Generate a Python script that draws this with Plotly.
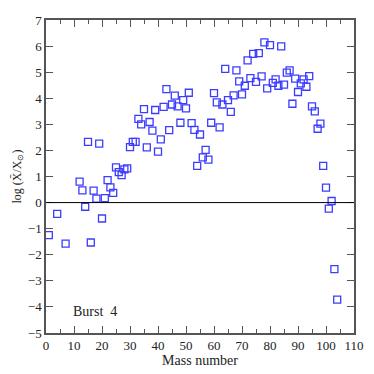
import plotly.graph_objects as go

# mass numbers and log overproduction factors
mass_number = [1, 4, 7, 12, 13, 14, 15, 16, 17, 18, 19, 20, 21, 22, 23, 24, 25, 26, 27, 28,
               29, 30, 31, 32, 33, 34, 35, 36, 37, 38, 39, 40, 41, 42, 43, 44, 45, 46, 47, 48,
               49, 50, 51, 52, 53, 54, 55, 56, 57, 58, 59, 60, 61, 62, 63, 64, 65, 66, 67, 68,
               69, 70, 71, 72, 73, 74, 75, 76, 77, 78, 79, 80, 81, 82, 83, 84, 85, 86, 87, 88,
               89, 90, 91, 92, 93, 94, 95, 96, 97, 98, 99, 100, 101, 102, 103, 104]
log_ratio = [-1.25, -0.43, -1.57, 0.80, 0.47, -0.16, 2.33, -1.53, 0.46, 0.15, 2.26, -0.61,
             0.17, 0.86, 0.58, 0.37, 1.35, 1.17, 1.05, 1.27, 1.31, 2.13, 2.33, 2.33, 3.21,
             3.00, 3.58, 2.12, 3.09, 2.76, 3.55, 1.95, 2.42, 3.67, 4.35, 2.78, 3.76, 4.10,
             3.69, 3.06, 3.93, 3.61, 4.21, 3.05, 2.79, 1.41, 2.61, 1.73, 2.02, 1.65, 3.06,
             4.20, 3.84, 2.88, 3.76, 5.13, 3.93, 3.48, 4.11, 5.07, 4.65, 4.15, 4.48, 5.45,
             4.77, 5.70, 4.63, 5.73, 4.84, 6.14, 4.38, 6.04, 4.59, 4.72, 4.48, 5.99, 4.52,
             4.98, 5.07, 3.79, 4.75, 4.24, 4.57, 4.72, 4.44, 4.85, 3.69, 3.50, 2.83, 3.03,
             1.41, 0.57, -0.23, 0.06, -2.55, -3.72]

FONT = "Liberation Serif"
AXIS = "#555555"

fig = go.Figure()
fig.add_trace(go.Scatter(
    x=mass_number, y=log_ratio, mode="markers",
    marker={"symbol": "square-open", "size": 7, "color": "#3c3cff", "line": {"width": 1.3}},
    showlegend=False,
))
fig.add_hline(y=0, line={"color": "black", "width": 1})
fig.add_annotation(x=9, y=-4.18, text="Burst  4", showarrow=False, xanchor="left",
                   font={"family": FONT, "size": 14, "color": "#222"})

# page body adds an 8px offset, so the figure is drawn 366px square
fig.update_layout(
    width=366, height=366, autosize=False,
    margin={"l": 38, "r": 20, "t": 12, "b": 41},
    plot_bgcolor="white", paper_bgcolor="white",
    font={"family": FONT, "size": 13, "color": "#222"},
)
common = dict(showgrid=False, zeroline=False, showline=True, linecolor=AXIS, linewidth=1.5,
              mirror="allticks", ticks="inside", tickcolor=AXIS, ticklen=7, tickwidth=1,
              automargin=False)
fig.update_xaxes(range=[0, 110], dtick=10, tick0=0,
                 minor={"dtick": 5, "ticks": "inside", "ticklen": 4, "tickcolor": AXIS},
                 title={"text": "Mass number", "standoff": 1, "font": {"size": 14}}, **common)
fig.update_yaxes(range=[-5, 7], dtick=1, tick0=0,
                 title={"text": "log (X̄/X<sub>⊙</sub>)", "standoff": 4, "font": {"size": 12}},
                 **common)

fig.write_html("out.html")
